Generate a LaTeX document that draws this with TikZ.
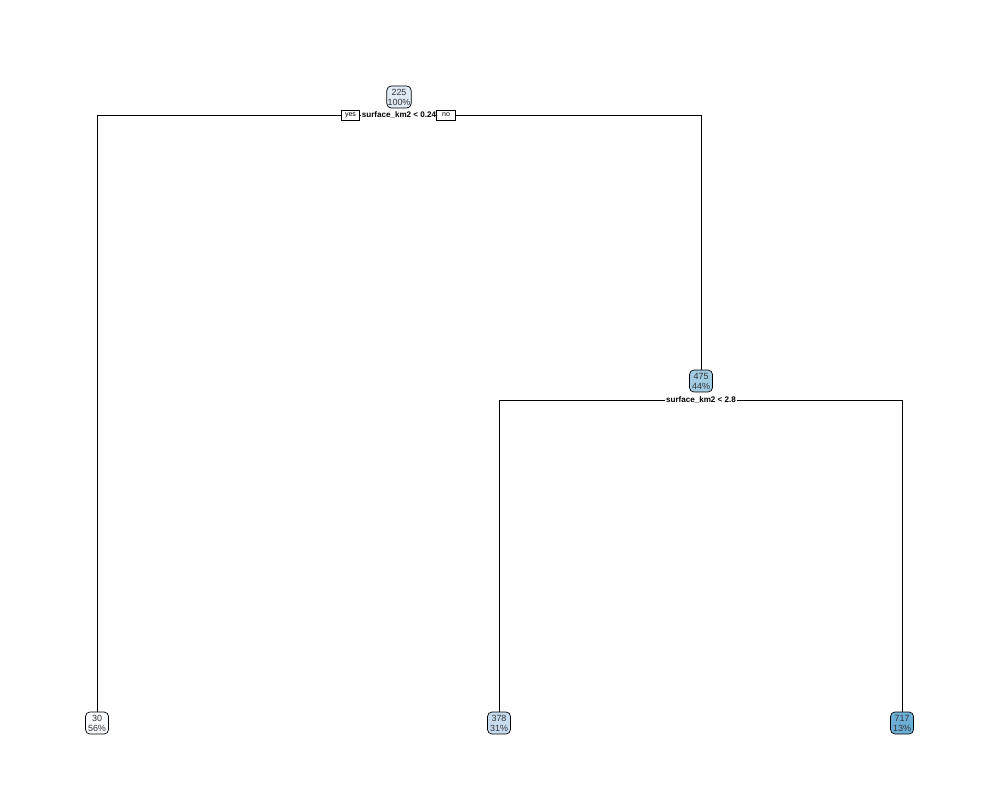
\documentclass[tikz,border=0pt]{standalone}
\usepackage{fontspec}
\setmainfont{Liberation Sans}

\definecolor{blueA}{HTML}{F7FBFF}
\definecolor{blueB}{HTML}{E0EBF6}
\definecolor{blueC}{HTML}{C8DCF0}
\definecolor{blueD}{HTML}{A0CBE3}
\definecolor{blueE}{HTML}{6BAED6}

\tikzset{
  treenode/.style={draw=black, line width=0.4pt, rounded corners=2.5pt, minimum width=0.46cm,
    minimum height=0.44cm, inner sep=0.4pt, align=center, text=black!80,
    font=\fontsize{5.1}{5.7}\selectfont},
  splitlabel/.style={fill=white, inner sep=0.5pt, font=\bfseries\fontsize{4.6}{5}\selectfont},
  yesno/.style={draw=black, line width=0.4pt, fill=white, inner sep=0.5pt, minimum width=0.37cm,
    minimum height=0.2cm, font=\fontsize{4}{4.5}\selectfont},
  branch/.style={line width=0.5pt}
}

\begin{document}
\begin{tikzpicture}[x=0.02cm, y=-0.02cm]

% Page frame
\useasboundingbox (0,0) rectangle (1000,800);

% Root node and first split
\node[treenode, fill=blueB] (root) at (399,97) {225\\100\%};
\node[splitlabel] (split1) at (399,115) {surface\_km2 < 0.24};
\node[yesno] (yes) at (350.5,115) {yes};
\node[yesno] (no) at (446,115) {no};

% Inner node and second split
\node[treenode, fill=blueD] (n475) at (701,381) {475\\44\%};
\node[splitlabel] (split2) at (701,400) {surface\_km2 < 2.8};

% Leaves
\node[treenode, fill=blueA] (leaf30) at (97,723) {30\\56\%};
\node[treenode, fill=blueC] (leaf378) at (499,723) {378\\31\%};
\node[treenode, fill=blueE] (leaf717) at (902,723) {717\\13\%};

% Branches of the first split
\draw[branch] (yes.east) -- (split1.west);
\draw[branch] (split1.east) -- (no.west);
\draw[branch] (yes.west) -| (leaf30.north);
\draw[branch] (no.east) -| (n475.north);

% Branches of the second split
\draw[branch] (split2.west) -| (leaf378.north);
\draw[branch] (split2.east) -| (leaf717.north);

\end{tikzpicture}
\end{document}
